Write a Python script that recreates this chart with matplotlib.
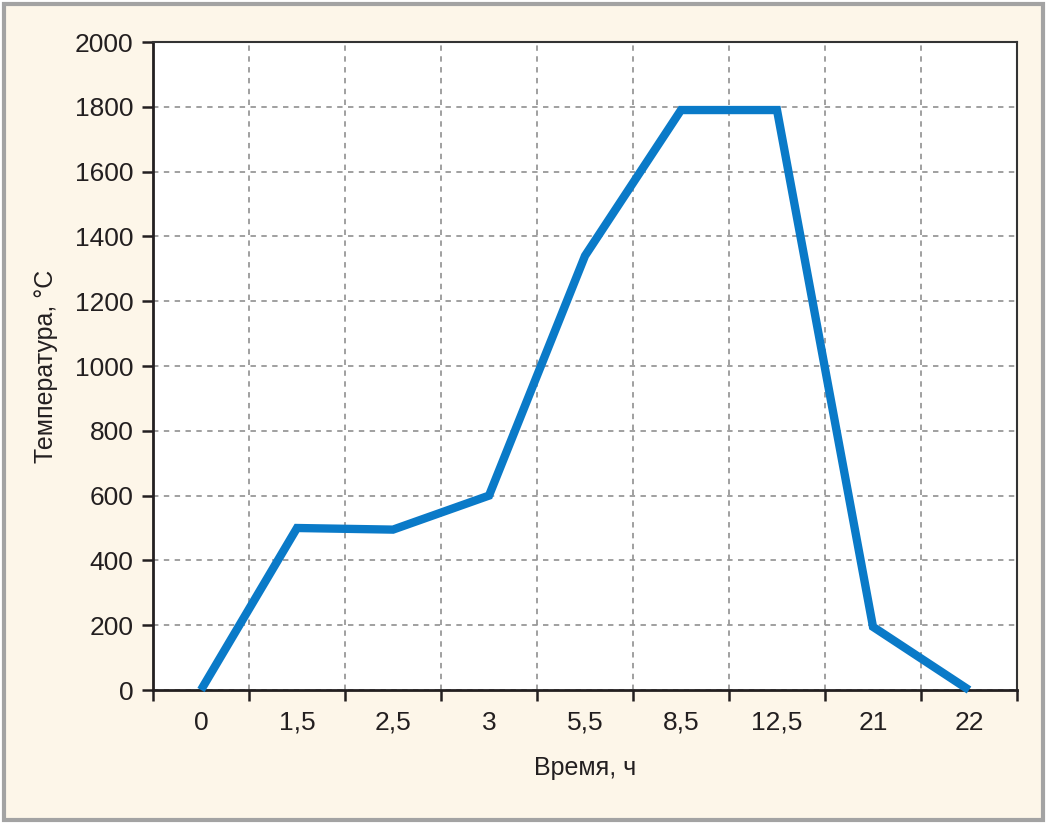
import numpy as np
import matplotlib
matplotlib.use('Agg')
import matplotlib.pyplot as plt
from matplotlib.patches import Rectangle

plt.rcParams['font.family'] = ['Liberation Sans Narrow', 'Liberation Sans', 'DejaVu Sans']

# data
time_labels = ['0', '1,5', '2,5', '3', '5,5', '8,5', '12,5', '21', '22']
temperature = [0, 500, 495, 600, 1340, 1790, 1790, 195, 0]

BG = '#fdf6e9'
LINE = '#0a7ac8'
TXT = '#231f20'

fig = plt.figure(figsize=(10.47, 8.24), dpi=100, facecolor=BG)
W, H = 1047, 824
# outer gray frame
fig.patches.append(Rectangle((0, 0), 1, 1, transform=fig.transFigure,
                             facecolor='white', edgecolor='none', zorder=-3))
fig.patches.append(Rectangle((4 / W, 4 / H), 1 - 8 / W, 1 - 8 / H, transform=fig.transFigure,
                             facecolor=BG, edgecolor='#a3a3a3', linewidth=3, zorder=-2))

ax = fig.add_axes([153 / W, 1 - 690 / H, (1017 - 153) / W, (690 - 42) / H])
ax.set_facecolor('white')

x = np.arange(len(time_labels))
ax.plot(x, temperature, color=LINE, linewidth=6, solid_joinstyle='miter',
        solid_capstyle='butt', zorder=3, clip_on=False)

ax.set_xlim(-0.5, len(time_labels) - 0.5)
ax.set_ylim(0, 2000)

# boundaries as major ticks with grid, labels on minor ticks
ax.set_xticks(np.arange(-0.5, len(time_labels), 1.0))
ax.set_xticklabels([])
ax.set_xticks(x, minor=True)
ax.set_xticklabels(time_labels, minor=True, fontsize=19, color=TXT)
ax.tick_params(axis='x', which='minor', length=0, pad=15)
ax.tick_params(axis='x', which='major', length=8, width=1.8, color=TXT, direction='out')

ax.set_yticks(np.arange(0, 2001, 200))
ax.tick_params(axis='y', length=8, width=1.8, color=TXT, labelsize=19,
               labelcolor=TXT, pad=6)

ax.grid(True, which='major', color='#999999', linestyle=(0, (3, 3)), linewidth=1.3)
ax.set_axisbelow(True)

for side in ['left', 'bottom']:
    ax.spines[side].set_color(TXT)
    ax.spines[side].set_linewidth(2)
for side in ['top', 'right']:
    ax.spines[side].set_color('#333333')
    ax.spines[side].set_linewidth(1.5)

ax.set_xlabel('Время, ч', fontsize=18, color=TXT, labelpad=15)
ax.set_ylabel('Температура, °С', fontsize=18, color=TXT, labelpad=12)

fig.savefig('out.png', dpi=100, facecolor=fig.get_facecolor())
